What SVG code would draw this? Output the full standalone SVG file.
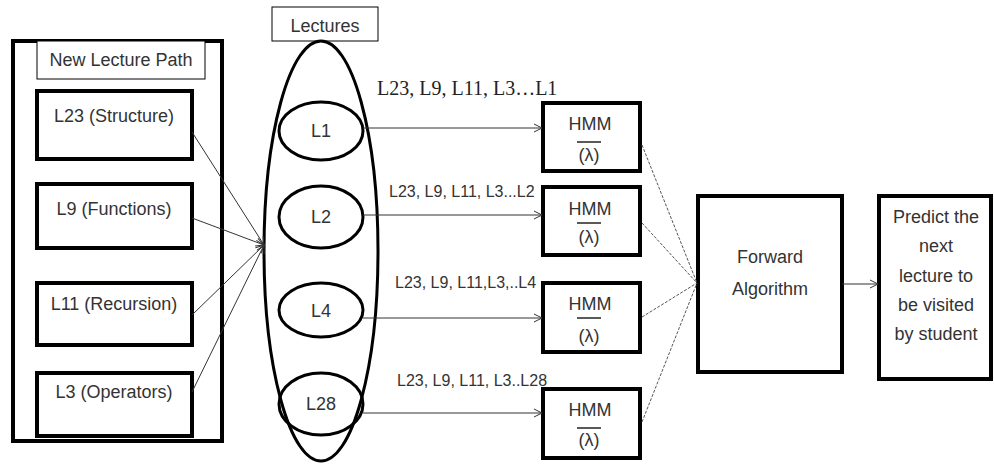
<svg xmlns="http://www.w3.org/2000/svg" width="994" height="464" viewBox="0 0 994 464">
  <defs>
    <marker id="open-arrow" markerWidth="10" markerHeight="10" refX="9" refY="5" orient="auto" markerUnits="userSpaceOnUse">
      <path d="M1,1 L9,5 L1,9" fill="none" stroke="#333" stroke-width="1"/>
    </marker>
  </defs>
  <style>
    .thick { fill: #fff; stroke: #000; stroke-width: 4; }
    .thin { fill: #fff; stroke: #000; stroke-width: 1; }
    .ell { fill: none; stroke: #000; stroke-width: 3; }
    .label { font-family: "Liberation Sans", Arial, sans-serif; font-size: 18px; fill: #333; text-anchor: middle; }
    .seq { font-family: "Liberation Sans", Arial, sans-serif; font-size: 16px; fill: #333; }
    .seq-serif { font-family: "Liberation Serif", "Times New Roman", serif; font-size: 20px; fill: #222; }
    .conn { fill: none; stroke: #333; stroke-width: 1; }
    .conn-light { fill: none; stroke: #555; stroke-width: 1; stroke-dasharray: 3 1.5; }
  </style>

  <!-- left panel: new lecture path -->
  <g id="lecture-path">
    <rect class="thick" x="13" y="41" width="209" height="400"/>
    <rect class="thin" x="37" y="41" width="168" height="38"/>
    <text class="label" x="121" y="66">New Lecture Path</text>
  </g>
  <g id="path-l23">
    <rect class="thick" x="37" y="91" width="155" height="68"/>
    <text class="label" x="114" y="122">L23 (Structure)</text>
  </g>
  <g id="path-l9">
    <rect class="thick" x="37" y="184" width="155" height="64"/>
    <text class="label" x="114" y="215">L9 (Functions)</text>
  </g>
  <g id="path-l11">
    <rect class="thick" x="37" y="283" width="155" height="62"/>
    <text class="label" x="114" y="310">L11 (Recursion)</text>
  </g>
  <g id="path-l3">
    <rect class="thick" x="37" y="373" width="155" height="63"/>
    <text class="label" x="114" y="398">L3 (Operators)</text>
  </g>

  <!-- lectures set -->
  <g id="lectures">
    <rect class="thin" x="272" y="7" width="106" height="34"/>
    <text class="label" x="325" y="32">Lectures</text>
    <ellipse class="ell" cx="321" cy="251" rx="57" ry="210"/>
  </g>
  <g id="lec-l1">
    <ellipse class="ell" cx="321" cy="131" rx="42" ry="29"/>
    <text class="label" x="321" y="137">L1</text>
  </g>
  <g id="lec-l2">
    <ellipse class="ell" cx="321" cy="217" rx="42" ry="31"/>
    <text class="label" x="321" y="223">L2</text>
  </g>
  <g id="lec-l4">
    <ellipse class="ell" cx="321" cy="310" rx="42" ry="27"/>
    <text class="label" x="321" y="317">L4</text>
  </g>
  <g id="lec-l28">
    <ellipse class="ell" cx="321" cy="404" rx="42" ry="31"/>
    <text class="label" x="321" y="410">L28</text>
  </g>

  <!-- HMM models -->
  <g id="hmm-1">
    <rect class="thick" x="543" y="103" width="97" height="68"/>
    <text class="label" x="590" y="130">HMM</text>
    <line x1="577" y1="142" x2="601" y2="142" stroke="#222" stroke-width="1.5"/>
    <text class="label" x="589" y="161">(λ)</text>
  </g>
  <g id="hmm-2">
    <rect class="thick" x="543" y="187" width="97" height="68"/>
    <text class="label" x="590" y="215">HMM</text>
    <line x1="577" y1="223" x2="601" y2="223" stroke="#222" stroke-width="1.5"/>
    <text class="label" x="589" y="243">(λ)</text>
  </g>
  <g id="hmm-3">
    <rect class="thick" x="543" y="283" width="97" height="69"/>
    <text class="label" x="590" y="310">HMM</text>
    <line x1="577" y1="318" x2="601" y2="318" stroke="#222" stroke-width="1.5"/>
    <text class="label" x="589" y="342">(λ)</text>
  </g>
  <g id="hmm-4">
    <rect class="thick" x="543" y="389" width="97" height="69"/>
    <text class="label" x="590" y="416">HMM</text>
    <line x1="577" y1="428" x2="601" y2="428" stroke="#222" stroke-width="1.5"/>
    <text class="label" x="589" y="446">(λ)</text>
  </g>

  <!-- forward algorithm -->
  <g id="forward">
    <rect class="thick" x="698" y="196" width="144" height="176"/>
    <text class="label" x="770" y="263">Forward</text>
    <text class="label" x="770" y="295">Algorithm</text>
  </g>

  <!-- prediction -->
  <g id="predict">
    <rect class="thick" x="879" y="196" width="112" height="183"/>
    <text class="label" x="936" y="223">Predict the</text>
    <text class="label" x="936" y="252">next</text>
    <text class="label" x="936" y="282">lecture to</text>
    <text class="label" x="936" y="311">be visited</text>
    <text class="label" x="936" y="340">by student</text>
  </g>

  <!-- connectors -->
  <g id="connectors">
    <line class="conn" x1="192" y1="132" x2="264" y2="245" marker-end="url(#open-arrow)"/>
    <line class="conn" x1="192" y1="218" x2="264" y2="245" marker-end="url(#open-arrow)"/>
    <line class="conn" x1="192" y1="315" x2="264" y2="245" marker-end="url(#open-arrow)"/>
    <line class="conn" x1="192" y1="392" x2="264" y2="245" marker-end="url(#open-arrow)"/>

    <line class="conn" x1="363" y1="128" x2="542" y2="128" marker-end="url(#open-arrow)"/>
    <line class="conn" x1="363" y1="215" x2="542" y2="215" marker-end="url(#open-arrow)"/>
    <line class="conn" x1="363" y1="318" x2="542" y2="318" marker-end="url(#open-arrow)"/>
    <line class="conn" x1="363" y1="413" x2="542" y2="413" marker-end="url(#open-arrow)"/>

    <text class="seq-serif" x="377" y="95">L23, L9, L11, L3…L1</text>
    <text class="seq" x="389" y="197">L23, L9, L11, L3...L2</text>
    <text class="seq" x="395" y="288">L23, L9, L11,L3,..L4</text>
    <text class="seq" x="397" y="386">L23, L9, L11, L3..L28</text>

    <line class="conn-light" x1="642" y1="145" x2="697" y2="283"/>
    <line class="conn-light" x1="642" y1="223" x2="697" y2="283"/>
    <line class="conn-light" x1="642" y1="317" x2="697" y2="283"/>
    <line class="conn-light" x1="642" y1="422" x2="697" y2="283"/>

    <line class="conn" x1="842" y1="284" x2="878" y2="284" marker-end="url(#open-arrow)"/>
  </g>
</svg>
